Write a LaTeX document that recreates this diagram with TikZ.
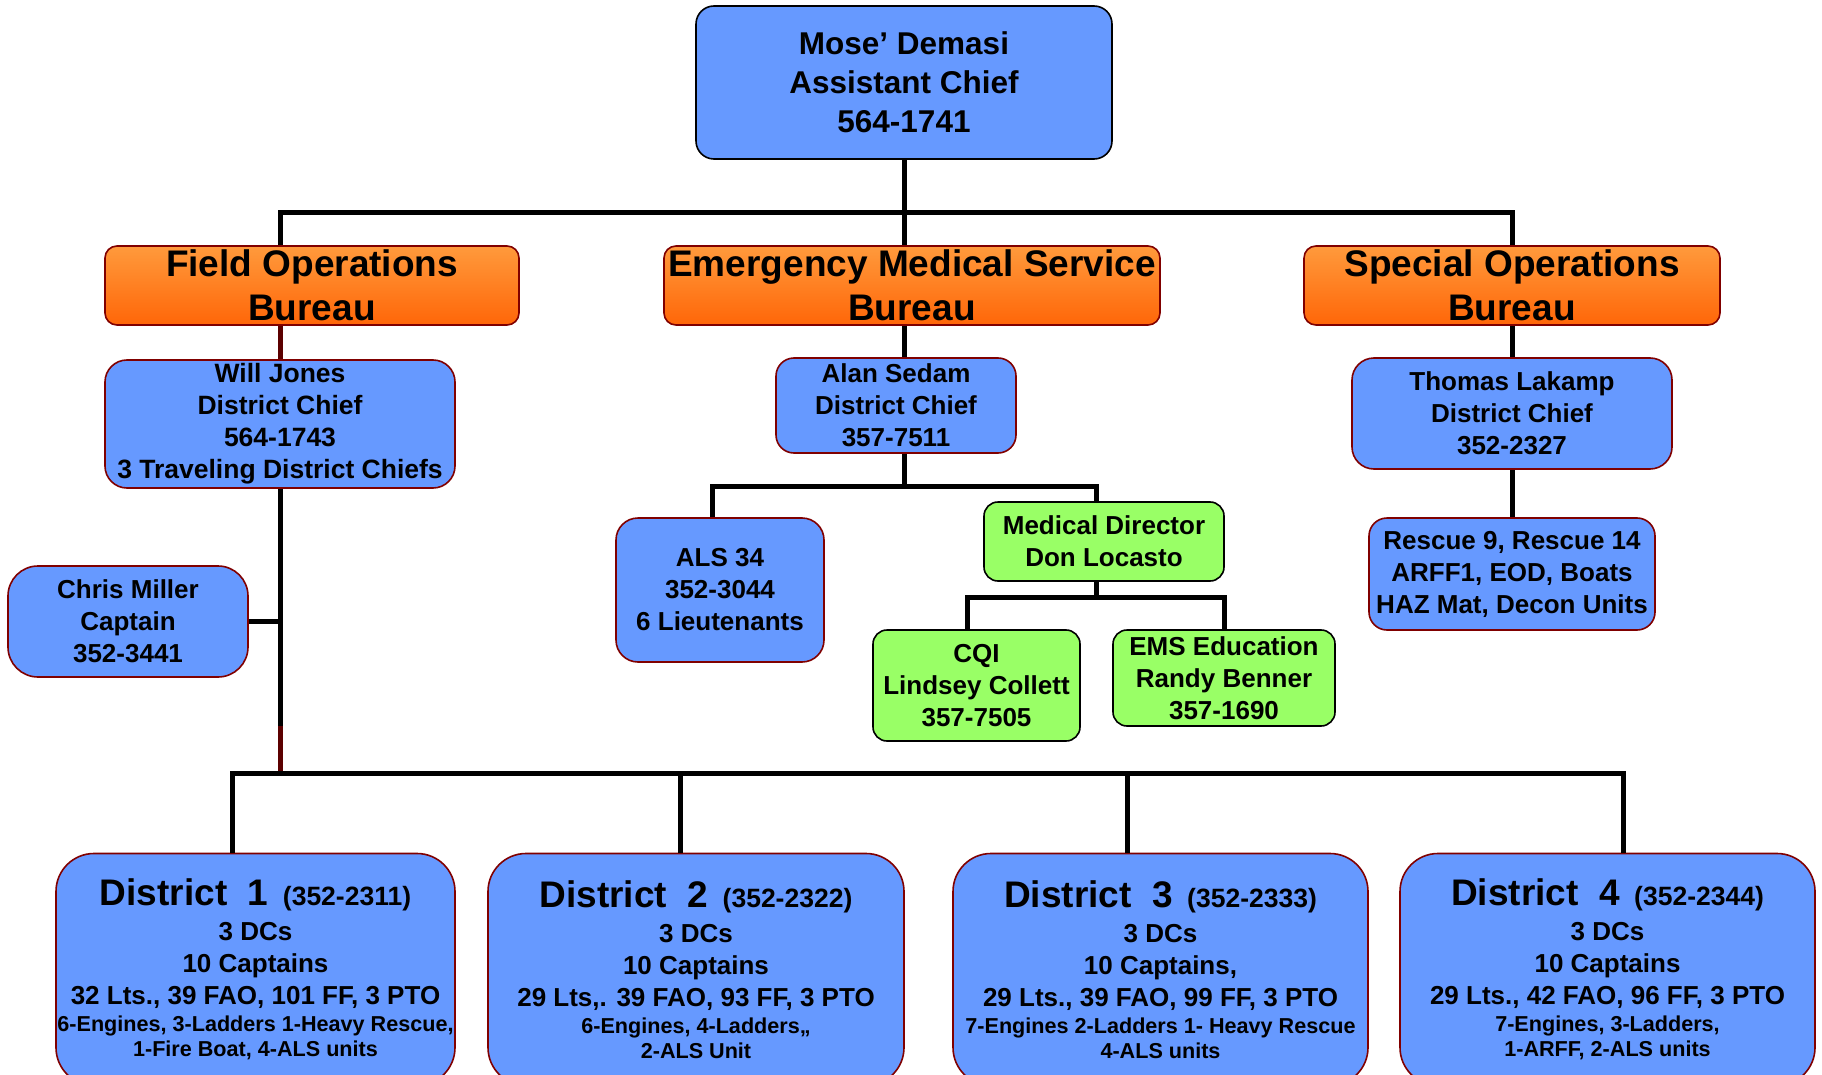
\documentclass[tikz,border=0pt]{standalone}
\usepackage{fontspec}
\setmainfont{Liberation Sans}

\definecolor{boxblue}{HTML}{6699FF}
\definecolor{boxgreen}{HTML}{99FF66}
\definecolor{boxred}{HTML}{800000}
\definecolor{linered}{HTML}{5C0000}
\definecolor{orangetop}{HTML}{FF9A3C}
\definecolor{orangebot}{HTML}{FF6608}

\tikzset{
  person/.style={draw=boxred, line width=1.6pt, fill=boxblue, rounded corners=22pt,
    align=center, inner sep=0pt, font=\fontsize{26}{32}\selectfont\bfseries},
  bureau/.style={draw=boxred, line width=1.6pt, top color=orangetop, bottom color=orangebot,
    rounded corners=12pt, align=center, inner sep=0pt, minimum height=79pt,
    font=\fontsize{37}{44}\selectfont\bfseries},
  medic/.style={person, draw=black, fill=boxgreen, rounded corners=14pt},
  district/.style={person, rounded corners=38pt, minimum width=410pt, minimum height=232pt},
  conn/.style={line width=5pt, black},
}
\newcommand{\disthead}[2]{{\fontsize{37}{40}\selectfont District\ \ #1}\ \ {\fontsize{26.5}{30}\selectfont(#2)}\\[3pt]}
\newcommand{\distunits}[2]{\\[-5pt]{\fontsize{21.6}{25}\selectfont #1}\\[-7pt]{\fontsize{21.6}{25}\selectfont #2}}

\begin{document}
\begin{tikzpicture}[x=1pt, y=-1pt]
		\useasboundingbox (0,0) rectangle (1822,1075);
		\clip (0,0) rectangle (1822,1075);

		\node[person, draw=black, rounded corners=18pt, minimum width=416pt, minimum height=153pt,
			font=\fontsize{31.5}{39}\selectfont\bfseries] (chief) at (904,82.5) {Mose’ Demasi\\Assistant Chief\\564-1741};

		\node[bureau, minimum width=414pt] (fob) at (312,285.5) {Field Operations\\Bureau};
		\node[bureau, minimum width=496pt] (emsb) at (912,285.5) {Emergency Medical Service\\Bureau};
		\node[bureau, minimum width=416pt] (sob) at (1512,285.5) {Special Operations\\Bureau};

		\node[person, minimum width=350pt, minimum height=128pt, font=\fontsize{26.5}{32}\selectfont\bfseries] (wj) at (280,424) {Will Jones\\District Chief\\564-1743\\3 Traveling District Chiefs};
		\node[person, rounded corners=30pt, minimum width=240pt, minimum height=111pt] (cm) at (128,621.5) {Chris Miller\\Captain\\352-3441};

		\node[person, rounded corners=18pt, minimum width=240pt, minimum height=95pt] (as) at (896,405.5) {Alan Sedam\\District Chief\\357-7511};
		\node[person, minimum width=208pt, minimum height=144pt] (als) at (720,590) {ALS 34\\352-3044\\6 Lieutenants};
		\node[medic, minimum width=240pt, minimum height=79pt] (md) at (1104,541.5) {Medical Director\\Don Locasto};
		\node[medic, minimum width=207pt, minimum height=111pt] (cqi) at (976.5,685.5) {CQI\\Lindsey Collett\\357-7505};
		\node[medic, minimum width=222pt, minimum height=96pt] (edu) at (1224,678) {EMS Education\\Randy Benner\\357-1690};

		\node[person, minimum width=320pt, minimum height=111pt] (tl) at (1512,413.5) {Thomas Lakamp\\District Chief\\352-2327};
		\node[person, rounded corners=18pt, minimum width=286pt, minimum height=112pt] (resc) at (1512,574) {Rescue 9, Rescue 14\\ARFF1, EOD, Boats\\HAZ Mat, Decon Units};

		\node[district, minimum width=399pt] (d1) at (255.5,969.5) {\disthead{1}{352-2311}3 DCs\\10 Captains\\32 Lts., 39 FAO, 101 FF, 3 PTO
			\distunits{6-Engines, 3-Ladders 1-Heavy Rescue,}{1-Fire Boat, 4-ALS units}};
		\node[district, minimum width=416pt] (d2) at (696,969.5) {\disthead{2}{352-2322}3 DCs\\10 Captains\\29 Lts,. 39 FAO, 93 FF, 3 PTO
			\distunits{6-Engines, 4-Ladders,,}{2-ALS Unit}};
		\node[district, minimum width=415pt] (d3) at (1160.5,969.5) {\disthead{3}{352-2333}3 DCs\\10 Captains,\\29 Lts., 39 FAO, 99 FF, 3 PTO
			\distunits{7-Engines 2-Ladders 1- Heavy Rescue}{4-ALS units}};
		\node[district, minimum width=415pt] (d4) at (1607.5,969.5) {\disthead{4}{352-2344}3 DCs\\10 Captains\\29 Lts., 42 FAO, 96 FF, 3 PTO
			\distunits{7-Engines, 3-Ladders,}{1-ARFF, 2-ALS units}};

		\coordinate (top) at (904,213);
		\coordinate (emsbar) at (904,486);
		\coordinate (medbar) at (1096,597);
		\coordinate (redjoint) at (280,726);
		\coordinate (dbar1) at (232,773);
		\coordinate (dbar2) at (680,773);
		\coordinate (dbar3) at (1127,773);
		\coordinate (dbar4) at (1623,773);

		\draw[conn] (chief.south) -- (chief.south |- emsb.north);
		\draw[conn] (wj.north |- fob.north) -- (wj.north |- top) -- (sob.north |- top) -- (sob.north);
		\draw[conn, linered] (wj.north |- fob.south) -- (wj.north);
		\draw[conn] (chief.south |- emsb.south) -- (chief.south |- as.north);
		\draw[conn] (sob.south) -- (tl.north);
		\draw[conn] (tl.south) -- (resc.north);

		\draw[conn] (wj.south) -- (redjoint);
		\draw[conn, linered] (redjoint) -- (redjoint |- dbar1);
		\draw[conn] (cm.east) -- (cm.east -| wj.south);
		\draw[conn] (dbar1 |- d1.north) -- (dbar1) -- (dbar4) -- (dbar4 |- d4.north);
		\draw[conn] (dbar2) -- (dbar2 |- d2.north);
		\draw[conn] (dbar3) -- (dbar3 |- d3.north);

		\draw[conn] (as.south -| emsbar) -- (emsbar);
		\draw[conn] ([xshift=-8pt]als.north) -- ([xshift=-8pt]als.north |- emsbar) -- ([xshift=-8pt]md.north |- emsbar) -- ([xshift=-8pt]md.north);
		\draw[conn] (md.south -| medbar) -- (medbar);
		\draw[conn] ([xshift=-9pt]cqi.north) -- ([xshift=-9pt]cqi.north |- medbar) -- (edu.north |- medbar) -- (edu.north);
	\end{tikzpicture}
\end{document}
